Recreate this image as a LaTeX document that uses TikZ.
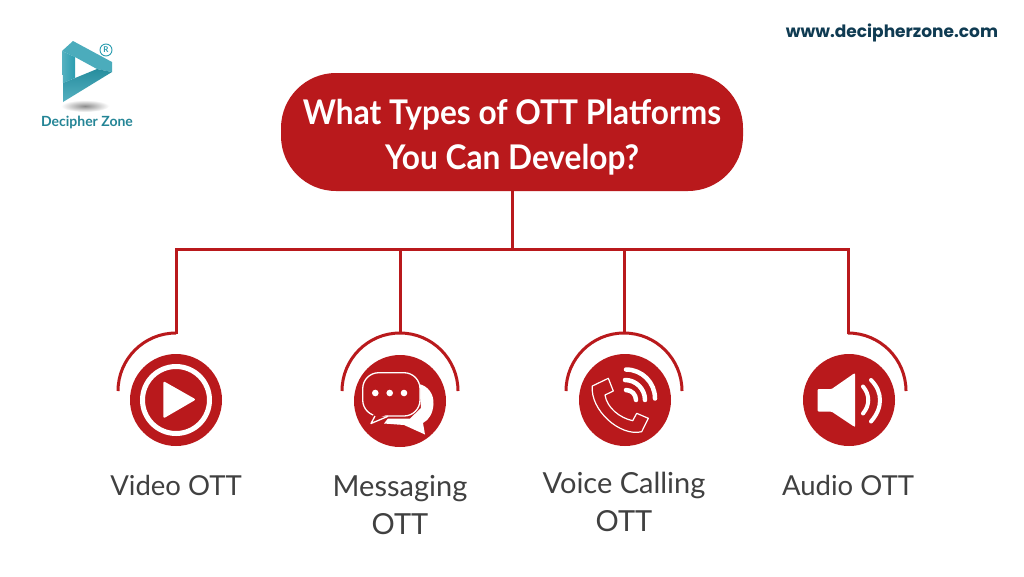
\documentclass[tikz,border=0pt]{standalone}
\usepackage{fontspec}
\setmainfont{Lato}
\newfontfamily\webfont{Poppins}
\newfontfamily\titlefont[FakeStretch=0.93]{Lato}
\usetikzlibrary{shapes.geometric}
\definecolor{dzred}{HTML}{B9191C}
\definecolor{dznavy}{HTML}{0F3B52}
\definecolor{dzteal}{HTML}{2B9DB0}
\tikzset{x=1pt,y=-1pt,
  wire/.style={draw=dzred,line width=3pt},
  iconbg/.style={circle,fill=dzred,minimum size=92pt,inner sep=0pt},
  lab/.style={font=\fontsize{27.5}{38}\selectfont,text=black!75,align=center,inner sep=0pt},
  labwide/.style={lab,font=\fontsize{29}{38}\selectfont},
  whiteln/.style={draw=white,line cap=round,line join=round}}
\begin{document}
\begin{tikzpicture}
\useasboundingbox (0,0) rectangle (1024,576);
\fill[white] (0,0) rectangle (1024,576);
% title
\node[fill=dzred,rounded corners=55pt,minimum width=462pt,minimum height=118pt,inner sep=0pt] (title) at (512,132) {};
\node[text=white,align=center,inner sep=0pt,font=\titlefont\bfseries\fontsize{34}{45}\selectfont] (titletext) at (512,137) {What Types of OTT Platforms\\You Can Develop?};
\node[font=\webfont\bfseries\fontsize{17}{20}\selectfont,text=dznavy,inner sep=0pt] (web) at (892,33) {www.deciphe{}rzone.com};
% icons
\node[iconbg] (v) at (176,400) {};
\node[iconbg] (m) at (400,401) {};
\node[iconbg] (c) at (625,400) {};
\node[iconbg] (a) at (849,400) {};
% connectors
\coordinate (bus) at (512,249);
\coordinate (t1) at (176,334);
\coordinate (t2) at (400,334);
\coordinate (t3) at (624,334);
\coordinate (t4) at (848,334);
\draw[wire] (title.south) -- (bus);
\draw[wire,line join=miter] (t1) -- (176,249) -- (848,249) -- (t4);
\draw[wire] (t2) -- (400,249);
\draw[wire] (t3) -- (624,249);
\draw[wire] (118,391) arc[start angle=180,end angle=270,radius=58];
\draw[wire] (342,391) arc[start angle=180,end angle=360,radius=58];
\draw[wire] (566,391) arc[start angle=180,end angle=360,radius=58];
\draw[wire] (906,391) arc[start angle=0,end angle=-90,radius=58];
% play icon
\draw[white,line width=5pt] (176,400) circle[radius=33.5];
\fill[white,rounded corners=2pt] (163.3,381) -- (196,399.5) -- (163.3,418.5) -- cycle;
% chat icon
\fill[white] (419,384) .. controls (428,386) and (434,394) .. (433.5,404)
  .. controls (433,413) and (429,420) .. (423,423) -- (425,434.5)
  -- (404,425) -- (384,423.5) -- (388,418.5) -- (410,418.5) -- (421,408) -- cycle;
\draw[white,line width=1.3pt,fill=dzred,rounded corners=16pt] (362.7,372.7) rectangle (420,416);
\fill[dzred] (374,412) -- (388,414) -- (372,421) -- cycle;
\draw[white,line width=1.3pt,line join=round] (375,416) -- (371,423.5) -- (388,416.3);
\fill[white] (375.3,393) circle[radius=3.3] (389.7,393) circle[radius=3.3] (404,393) circle[radius=3.3];
% phone icon
\draw[white,line width=1.2pt,line join=round,fill=dzred]
 (592.3,386) -- (608.3,378.3) -- (613.3,391) -- (605,395)
 .. controls (607,408) and (620,418) .. (632.7,420.7)
 -- (636.7,413.3) -- (648.3,418.3) -- (641.7,431.7)
 .. controls (620,437) and (590,410) .. (592.3,386) -- cycle;
\begin{scope}[whiteln,line width=4.5pt]
\draw (626,369.5) arc[start angle=90,end angle=0,radius=29,y radius=-29];
\draw (625,380) arc[start angle=90,end angle=0,radius=20,y radius=-20];
\draw (626,390) arc[start angle=90,end angle=0,radius=10,y radius=-10];
\end{scope}
% speaker
\fill[white,rounded corners=1pt] (817.7,389) -- (831.7,389) -- (854,373.5) -- (855,373.5) -- (855,426.5) -- (854,426.5) -- (831.7,411.7) -- (817.7,411.7) -- cycle;
\draw[whiteln,line width=4pt] (863,386.5) .. controls (870,395) and (870,405) .. (863,413.5);
\draw[whiteln,line width=4pt] (871,380) .. controls (883,392) and (883,408) .. (871,421.5);
% labels
\node[lab] (l1) at (176,485) {Video OTT};
\node[labwide] (l2) at (400,505) {Messaging\\OTT};
\node[labwide] (l3) at (624,502) {Voice Calling\\OTT};
\node[lab] (l4) at (848,485) {Audio OTT};
% logo
\shade[inner color=black!45,outer color=white,shading=radial] (85,106) ellipse[x radius=24,y radius=6];
\fill[dzteal!85!white] (62,51) -- (73,41) -- (112,62) -- (112,72) -- (97,69) -- (75,57) -- cycle;
\shade[left color=dzteal!80!white,right color=dzteal] (75,57) -- (62,51) -- (63,83) -- (75,78) -- cycle;
\shade[bottom color=dzteal!80!white,top color=dzteal!90!black] (63,102) -- (112,72) -- (97,69) -- (63,83) -- cycle;
\draw[dzteal,line width=.9pt] (106,50) circle[radius=6];
\node[font=\bfseries\fontsize{8}{8}\selectfont,text=dzteal,inner sep=0pt] (reg) at (106,50) {R};
\node[font=\bfseries\fontsize{14}{14}\selectfont,text=dzteal!85!black,inner sep=0pt] (brand) at (87,122) {Decipher Zone};
\end{tikzpicture}
\end{document}
